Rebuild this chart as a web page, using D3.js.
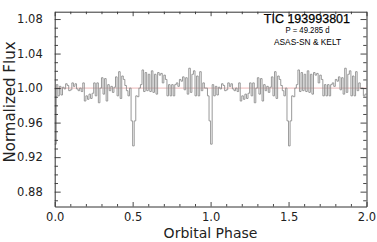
<!DOCTYPE html>
<html>
<head>
<meta charset="utf-8">
<script src="https://cdn.jsdelivr.net/npm/d3@7.9.0/dist/d3.min.js"></script>
<style>
  body { margin: 0; background: #fff; }
  svg { display: block; }
</style>
</head>
<body>
<div id="chart"></div>
<script>
// binned light curve, one orbit (phase 0.00 .. 0.99, bin width 0.01)
const binWidth = 0.01;
const fluxCycle = [
  0.935, 1.004, 0.991, 1.002, 0.992, 1.001, 0.999, 1.005, 1.003, 0.997,
  0.998, 1.006, 1.002, 1.005, 0.999, 0.997, 1.000, 0.996, 1.006, 0.985,
  0.991, 0.987, 0.993, 0.988, 0.994, 1.006, 0.991, 1.006, 0.983, 1.000,
  1.012, 0.993, 1.011, 0.985, 1.004, 0.997, 1.002, 0.995, 1.001, 1.013,
  0.991, 1.019, 0.988, 1.014, 1.010, 1.003, 0.997, 0.991, 1.000, 0.962,
  0.933, 0.962, 0.991, 0.990, 1.000, 1.004, 1.021, 0.996, 1.018, 0.997,
  1.016, 0.996, 1.020, 0.995, 1.016, 0.993, 1.018, 1.015, 1.017, 1.006,
  1.015, 1.010, 0.991, 1.004, 0.991, 1.004, 0.991, 1.004, 1.006, 1.002,
  1.010, 1.008, 1.013, 0.998, 1.012, 0.993, 1.023, 0.995, 1.016, 1.020,
  0.991, 1.014, 0.991, 1.019, 0.997, 1.006, 1.000, 1.000, 0.991, 0.962
];
const nCycles = 2;
const xTicksMajor = [0, 0.5, 1, 1.5, 2];
const yTicksMajor = [0.88, 0.92, 0.96, 1.00, 1.04, 1.08];
const title = 'TIC 193993801';
const subtitle = ['P = 49.285 d', 'ASAS-SN & KELT'];

const W = 377, H = 242;
const margin = { left: 54.7, right: 10.5, top: 11.7, bottom: 35.5 };

// phase-folded series repeated over two cycles
const series = [];
for (let c = 0; c < nCycles; c++) {
  fluxCycle.forEach((v, i) => series.push({ phase: c + i * binWidth, flux: v }));
}
// last bin of the plot differs a little from the cycle copy
series[series.length - 1].flux = 0.993;
series.push({ phase: nCycles, flux: series[series.length - 1].flux });

const x = d3.scaleLinear().domain([0, 2]).range([margin.left, W - margin.right]);
const y = d3.scaleLinear().domain([0.8628, 1.0885]).range([H - margin.bottom, margin.top]);

const svg = d3.select('#chart').append('svg')
  .attr('width', W).attr('height', H);

// reference line at unity
svg.append('line')
  .attr('x1', x(0)).attr('x2', x(2))
  .attr('y1', y(1)).attr('y2', y(1))
  .attr('stroke', '#e9a3a3').attr('stroke-width', 0.8);

const line = d3.line()
  .x(d => x(d.phase))
  .y(d => y(d.flux))
  .curve(d3.curveStepAfter);

svg.append('path')
  .datum(series)
  .attr('d', line)
  .attr('fill', 'none')
  .attr('stroke', '#8d8d8d')
  .attr('stroke-width', 0.9);

// axes: inward ticks on all four sides
const xMinor = d3.range(0, 2.0001, 0.1);
const yMinor = d3.range(0.87, 1.0801, 0.01);
const fmtX = d3.format('.1f'), fmtY = d3.format('.2f');
const isMajor = (v, list) => list.some(m => Math.abs(m - v) < 1e-6);

const axBottom = svg.append('g').attr('transform', `translate(0,${y.range()[0]})`)
  .call(d3.axisBottom(x).tickValues(xMinor).tickSizeInner(0).tickSizeOuter(0)
    .tickFormat(d => isMajor(d, xTicksMajor) ? fmtX(d) : ''));
axBottom.selectAll('.tick line').attr('y2', d => isMajor(d, xTicksMajor) ? -4.5 : -2.5);

const axTop = svg.append('g').attr('transform', `translate(0,${y.range()[1]})`)
  .call(d3.axisTop(x).tickValues(xMinor).tickSizeInner(0).tickSizeOuter(0).tickFormat(''));
axTop.selectAll('.tick line').attr('y2', d => isMajor(d, xTicksMajor) ? 4.5 : 2.5);

const axLeft = svg.append('g').attr('transform', `translate(${x.range()[0]},0)`)
  .call(d3.axisLeft(y).tickValues(yMinor).tickSizeInner(0).tickSizeOuter(0)
    .tickFormat(d => isMajor(d, yTicksMajor) ? fmtY(d) : ''));
axLeft.selectAll('.tick line').attr('x2', d => isMajor(d, yTicksMajor) ? 6 : 3.3);

const axRight = svg.append('g').attr('transform', `translate(${x.range()[1]},0)`)
  .call(d3.axisRight(y).tickValues(yMinor).tickSizeInner(0).tickSizeOuter(0).tickFormat(''));
axRight.selectAll('.tick line').attr('x2', d => isMajor(d, yTicksMajor) ? -6 : -3.3);

svg.selectAll('.domain').attr('stroke', '#333').attr('stroke-width', 1);
svg.selectAll('.tick line').attr('stroke', '#333').attr('stroke-width', 0.9);
svg.selectAll('.tick text')
  .attr('font-family', 'DejaVu Sans').attr('font-size', 11.5).attr('fill', '#222');
axBottom.selectAll('.tick text').attr('y', 6);
axLeft.selectAll('.tick text').attr('x', -12);

// axis titles
svg.append('text')
  .attr('x', 210.5).attr('y', 238)
  .attr('text-anchor', 'middle')
  .attr('font-family', 'DejaVu Sans').attr('font-size', 14).attr('fill', '#222')
  .text('Orbital Phase');

svg.append('text')
  .attr('transform', 'translate(14.5,102) rotate(-90)')
  .attr('text-anchor', 'middle')
  .attr('font-family', 'DejaVu Sans').attr('font-size', 15).attr('fill', '#222')
  .text('Normalized Flux');

// annotation
svg.append('text')
  .attr('x', 350).attr('y', 23)
  .attr('text-anchor', 'end')
  .attr('font-family', 'Liberation Sans').attr('font-size', 12.5).attr('fill', '#000')
  .attr('stroke', '#000').attr('stroke-width', 0.25)
  .text(title);

svg.selectAll('.sub')
  .data(subtitle)
  .join('text')
  .attr('class', 'sub')
  .attr('x', 307.5).attr('y', (d, i) => 33 + i * 12.3)
  .attr('text-anchor', 'middle')
  .attr('font-family', 'Liberation Sans').attr('font-size', 9.3).attr('fill', '#000')
  .attr('textLength', (d, i) => i === 0 ? 44 : 67)
  .attr('lengthAdjust', 'spacingAndGlyphs')
  .text(d => d);
</script>
</body>
</html>
